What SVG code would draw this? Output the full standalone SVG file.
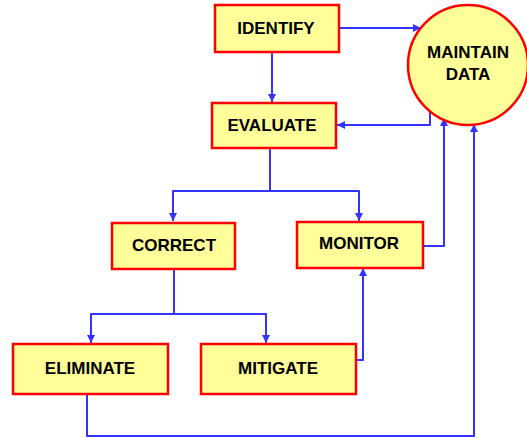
<svg xmlns="http://www.w3.org/2000/svg" width="527" height="438" viewBox="0 0 527 438">
<style>
.box{fill:#FFFF99;stroke:#FF0000;stroke-width:2.5}
.t{font-family:"Liberation Sans",Arial,sans-serif;font-weight:bold;font-size:17px;fill:#000;text-anchor:middle}
.c{fill:none;stroke:#3333FF;stroke-width:2;stroke-linejoin:round}
</style>
<defs>
<marker id="ah" viewBox="0 0 8 8" refX="8" refY="4" markerWidth="4" markerHeight="4" orient="auto" markerUnits="strokeWidth">
<path d="M0,0 L8,4 L0,8 Z" fill="#3333FF"/>
</marker>
</defs>
<rect width="527" height="438" fill="#fff"/>
<g id="connectors">
<path class="c" d="M339,28 H421" marker-end="url(#ah)"/>
<path class="c" d="M272,52 V102" marker-end="url(#ah)"/>
<path class="c" d="M430,110 V125 H337" marker-end="url(#ah)"/>
<path class="c" d="M270,148 V191 H173 V221" marker-end="url(#ah)"/>
<path class="c" d="M270,191 H359 V221" marker-end="url(#ah)"/>
<path class="c" d="M423,246 H444 V118" marker-end="url(#ah)"/>
<path class="c" d="M174,269 V314 H91 V343" marker-end="url(#ah)"/>
<path class="c" d="M174,314 H266 V343" marker-end="url(#ah)"/>
<path class="c" d="M356,360 H363 V268" marker-end="url(#ah)"/>
<path class="c" d="M87,394 V436 H474 V124" marker-end="url(#ah)"/>
</g>
<g id="maintain">
<circle cx="468" cy="65" r="60" class="box"/>
<text class="t" x="468" y="58">MAINTAIN</text>
<text class="t" x="468" y="80">DATA</text>
</g>
<g id="identify">
<rect class="box" x="215" y="5" width="124" height="47"/>
<text class="t" x="276" y="34">IDENTIFY</text>
</g>
<g id="evaluate">
<rect class="box" x="212" y="103" width="124" height="45"/>
<text class="t" x="272" y="131">EVALUATE</text>
</g>
<g id="correct">
<rect class="box" x="112" y="223" width="123" height="46"/>
<text class="t" x="174" y="251">CORRECT</text>
</g>
<g id="monitor">
<rect class="box" x="297" y="222" width="126" height="46"/>
<text class="t" x="359" y="249">MONITOR</text>
</g>
<g id="eliminate">
<rect class="box" x="13" y="344" width="155" height="50"/>
<text class="t" x="90" y="374">ELIMINATE</text>
</g>
<g id="mitigate">
<rect class="box" x="201" y="344" width="155" height="50"/>
<text class="t" x="278" y="374">MITIGATE</text>
</g>
</svg>
